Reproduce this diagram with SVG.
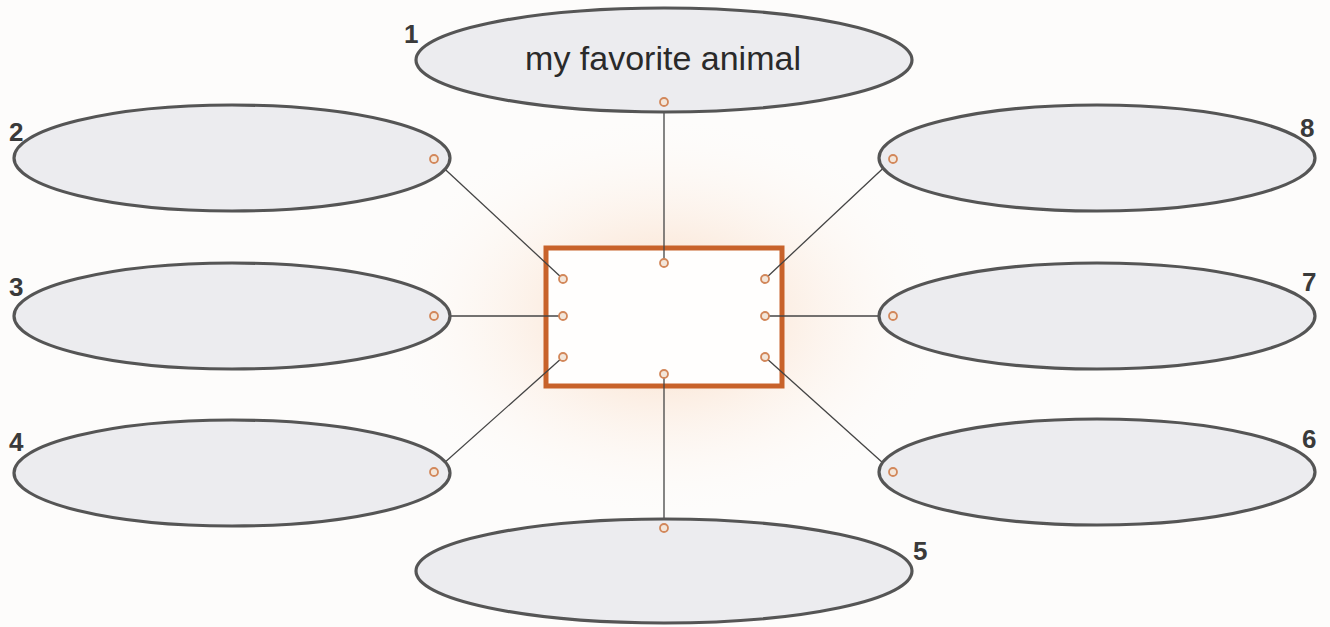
<svg xmlns="http://www.w3.org/2000/svg" width="1330" height="627" viewBox="0 0 1330 627">
<defs>
<radialGradient id="glow" cx="664" cy="316" r="300" gradientUnits="userSpaceOnUse" gradientTransform="translate(664 316) scale(1 0.7) translate(-664 -316)">
<stop offset="0" stop-color="#f8cfae" stop-opacity="0.85"/>
<stop offset="0.4" stop-color="#fbe4d2" stop-opacity="0.55"/>
<stop offset="1" stop-color="#ffffff" stop-opacity="0"/>
</radialGradient>
<style>
.bubble{fill:#ececef;stroke:#555;stroke-width:3.2}
.num{font-family:"Liberation Sans",Arial,sans-serif;font-weight:bold;font-size:26px;fill:#3a3a3a}
.dot{fill:#f3e6da;stroke:#d2875a;stroke-width:1.8}
.line{stroke:#444;stroke-width:1.3;fill:none}
</style>
</defs>
<rect x="0" y="0" width="1330" height="627" fill="#fdfcfb"/>
<ellipse cx="664" cy="316" rx="360" ry="250" fill="url(#glow)"/>
<g id="center">
<rect x="546" y="248" width="236" height="138" fill="#fffefd" stroke="#c8622a" stroke-width="5"/>
</g>
<g id="connectors">
<line class="line" x1="664" y1="102" x2="664" y2="263"/>
<line class="line" x1="434" y1="159" x2="563" y2="279"/>
<line class="line" x1="434" y1="316" x2="563" y2="316"/>
<line class="line" x1="434" y1="472" x2="563" y2="357"/>
<line class="line" x1="664" y1="528" x2="664" y2="374"/>
<line class="line" x1="893" y1="472" x2="765" y2="357"/>
<line class="line" x1="893" y1="316" x2="765" y2="316"/>
<line class="line" x1="893" y1="159" x2="765" y2="279"/>
</g>
<g id="center-ports">
<circle class="dot" cx="664" cy="263" r="4"/>
<circle class="dot" cx="563" cy="279" r="4"/>
<circle class="dot" cx="563" cy="316" r="4"/>
<circle class="dot" cx="563" cy="357" r="4"/>
<circle class="dot" cx="765" cy="279" r="4"/>
<circle class="dot" cx="765" cy="316" r="4"/>
<circle class="dot" cx="765" cy="357" r="4"/>
<circle class="dot" cx="664" cy="374" r="4"/>
</g>
<g id="node1">
<ellipse class="bubble" cx="664" cy="60" rx="248" ry="52"/>
<text x="663" y="70" text-anchor="middle" font-family="'Liberation Sans',Arial,sans-serif" font-size="34" fill="#2a2a2a">my favorite animal</text>
<circle class="dot" cx="664" cy="102" r="4"/>
<text class="num" x="404" y="43">1</text>
</g>
<g id="node2">
<ellipse class="bubble" cx="232" cy="158" rx="218" ry="53"/>
<circle class="dot" cx="434" cy="159" r="4"/>
<text class="num" x="9" y="141">2</text>
</g>
<g id="node3">
<ellipse class="bubble" cx="232" cy="316" rx="218" ry="53"/>
<circle class="dot" cx="434" cy="316" r="4"/>
<text class="num" x="9" y="296">3</text>
</g>
<g id="node4">
<ellipse class="bubble" cx="232" cy="473" rx="218" ry="53"/>
<circle class="dot" cx="434" cy="472" r="4"/>
<text class="num" x="9" y="451">4</text>
</g>
<g id="node5">
<ellipse class="bubble" cx="664" cy="571" rx="248" ry="52"/>
<circle class="dot" cx="664" cy="528" r="4"/>
<text class="num" x="913" y="560">5</text>
</g>
<g id="node6">
<ellipse class="bubble" cx="1097" cy="472" rx="218" ry="53"/>
<circle class="dot" cx="893" cy="472" r="4"/>
<text class="num" x="1302" y="448">6</text>
</g>
<g id="node7">
<ellipse class="bubble" cx="1097" cy="316" rx="218" ry="53"/>
<circle class="dot" cx="893" cy="316" r="4"/>
<text class="num" x="1302" y="291">7</text>
</g>
<g id="node8">
<ellipse class="bubble" cx="1097" cy="158" rx="218" ry="53"/>
<circle class="dot" cx="893" cy="159" r="4"/>
<text class="num" x="1300" y="137">8</text>
</g>
</svg>
